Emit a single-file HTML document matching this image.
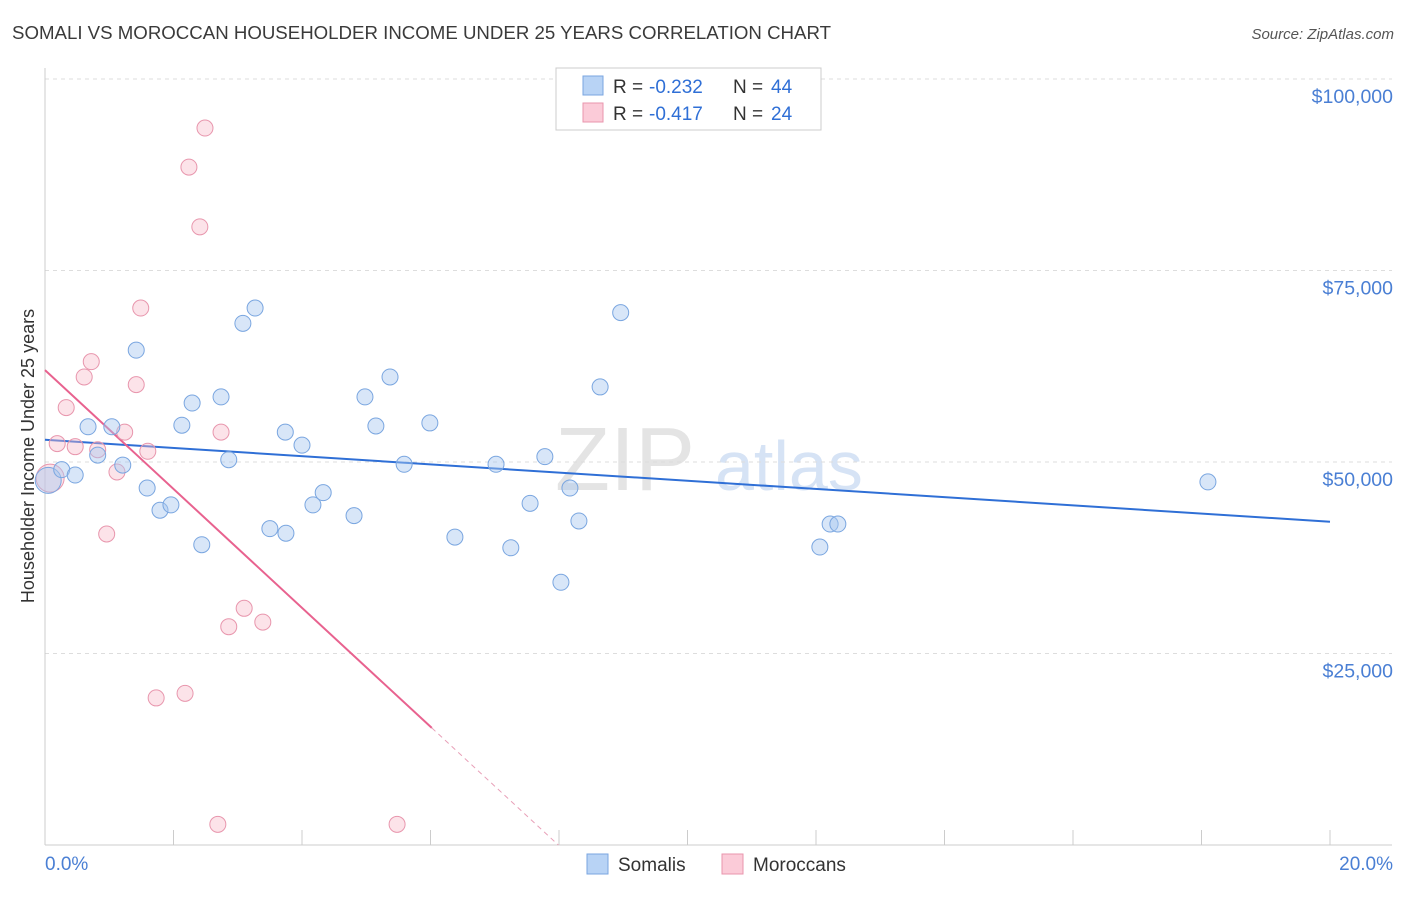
<!DOCTYPE html>
<html><head><meta charset="utf-8">
<style>
body{margin:0;background:#fff;font-family:"Liberation Sans",sans-serif;}
svg text{font-family:"Liberation Sans",sans-serif;}
</style></head>
<body>
<svg id="chart" width="1406" height="892" viewBox="0 0 1406 892" xmlns="http://www.w3.org/2000/svg">
<text x="12" y="39" font-size="18" fill="#3a3a3a" textLength="819" lengthAdjust="spacingAndGlyphs">SOMALI VS MOROCCAN HOUSEHOLDER INCOME UNDER 25 YEARS CORRELATION CHART</text>
<text x="1394" y="39" font-size="15" fill="#555" text-anchor="end" font-style="italic">Source: ZipAtlas.com</text>
<text x="555" y="490" font-size="90" fill="#e4e4e4" font-family="Liberation Serif">ZIP</text>
<text x="715" y="490" font-size="70" fill="#d6e3f5">atlas</text>
<g id="grid"></g>
<line x1="45" y1="68" x2="45" y2="845" stroke="#ccc"/>
<line x1="45" y1="845" x2="1392" y2="845" stroke="#ccc"/>
<g id="xticks"></g>
<text transform="translate(34,456) rotate(-90)" font-size="18" fill="#333" text-anchor="middle">Householder Income Under 25 years</text>
<text x="45" y="870" font-size="19" fill="#4a7fd4">0.0%</text>
<text x="1393" y="870" font-size="19" fill="#4a7fd4" text-anchor="end">20.0%</text>
<g id="lines"></g>
<g id="points"></g>
<g>
<rect x="556" y="68" width="265" height="62" fill="#fff" stroke="#ccc"/>
<rect x="583" y="76" width="20" height="19" fill="#b8d3f5" stroke="#7aa6e0"/>
<text x="613" y="93" font-size="19" fill="#333">R =</text>
<text x="649" y="93" font-size="19" fill="#2f6fd6">-0.232</text>
<text x="733" y="93" font-size="19" fill="#333">N =</text>
<text x="771" y="93" font-size="19" fill="#2f6fd6">44</text>
<rect x="583" y="103" width="20" height="19" fill="#fbcbd8" stroke="#e896ad"/>
<text x="613" y="120" font-size="19" fill="#333">R =</text>
<text x="649" y="120" font-size="19" fill="#2f6fd6">-0.417</text>
<text x="733" y="120" font-size="19" fill="#333">N =</text>
<text x="771" y="120" font-size="19" fill="#2f6fd6">24</text>
</g>
<g><rect x="587" y="854" width="21" height="20" fill="#b8d3f5" stroke="#7aa6e0"/><text x="618" y="871" font-size="19" fill="#333">Somalis</text></g>
<g><rect x="722" y="854" width="21" height="20" fill="#fbcbd8" stroke="#e896ad"/><text x="753" y="871" font-size="19" fill="#333">Moroccans</text></g>
</svg>
<script>
const NS="http://www.w3.org/2000/svg";
const yTicks=[25000,50000,75000,100000];
const yTickLabels=["$25,000","$50,000","$75,000","$100,000"];
const somaliX=[0.05,0.26,0.47,0.67,0.82,1.04,1.21,1.42,1.59,1.79,1.96,2.13,2.29,2.44,2.74,2.86,3.08,3.27,3.50,3.74,3.75,4.00,4.17,4.33,4.81,4.98,5.15,5.37,5.59,5.99,6.38,7.02,7.25,7.55,7.78,8.03,8.17,8.31,8.64,8.96,12.06,12.22,12.34,18.10];
const somaliY=[47.6,49.0,48.3,54.6,50.9,54.6,49.6,64.6,46.6,43.7,44.4,54.8,57.7,39.2,58.5,50.3,68.1,70.1,41.3,53.9,40.7,52.2,44.4,46.0,43.0,58.5,54.7,61.1,49.7,55.1,40.2,49.7,38.8,44.6,50.7,34.3,46.6,42.3,59.8,69.5,38.9,41.9,41.9,47.4];
const moroccanX=[0.08,0.19,0.33,0.47,0.61,0.72,0.82,0.96,1.12,1.24,1.42,1.49,1.60,1.73,2.18,2.24,2.41,2.49,2.69,2.74,2.86,3.10,3.39,5.48];
const moroccanY=[47.9,52.4,57.1,52.0,61.1,63.1,51.6,40.6,48.7,53.9,60.1,70.1,51.4,19.2,19.8,88.5,80.7,93.6,2.7,53.9,28.5,30.9,29.1,2.7];
const somaliTrend=[52.9,42.2];
const moroccanTrend=[62.0,-7.76];
const sx=p=>45+p/20*1285;
const sy=v=>845-v/25000*191.5;
function mk(tag,attrs,parent){const e=document.createElementNS(NS,tag);for(const k in attrs)e.setAttribute(k,attrs[k]);parent.appendChild(e);return e;}
const grid=document.getElementById('grid');
yTicks.forEach((t,i)=>{
  const l=mk('line',{x1:45,x2:1392,y1:sy(t),y2:sy(t),stroke:'#ddd','stroke-dasharray':'4,4'},grid);
  
  
  const tx=mk('text',{x:1393,y:sy(t)+24,'font-size':19.5,fill:'#4a7fd4','text-anchor':'end'},grid);
  tx.textContent=yTickLabels[i];
  
  
});
const xt=document.getElementById('xticks');
for(let i=1;i<=10;i++){
  const l=mk('line',{x1:sx(i*2),x2:sx(i*2),y1:830,y2:845,stroke:'#ccc'},xt);
  
  
}
const lines=document.getElementById('lines');
const bl=mk('line',{x1:sx(0),y1:sy(somaliTrend[0]*1000),x2:sx(20),y2:sy(somaliTrend[1]*1000),stroke:'#2f6fd6','stroke-width':2},lines);


const mEnd=6.02, mZero=-moroccanTrend[0]/moroccanTrend[1];
const pl=mk('line',{x1:sx(0),y1:sy(moroccanTrend[0]*1000),x2:sx(mEnd),y2:sy((moroccanTrend[0]+moroccanTrend[1]*mEnd)*1000),stroke:'#e8628f','stroke-width':2},lines);


const pd=mk('line',{x1:sx(mEnd),y1:sy((moroccanTrend[0]+moroccanTrend[1]*mEnd)*1000),x2:sx(mZero),y2:sy(0),stroke:'#e8a0b8','stroke-width':1,'stroke-dasharray':'5,4'},lines);


const pts=document.getElementById('points');
moroccanX.forEach((x,i)=>{
  const c=mk('circle',{cx:sx(x),cy:sy(moroccanY[i]*1000),r:i==0?14:8,fill:'rgba(247,184,200,0.4)',stroke:'#e896ad','stroke-width':1},pts);
  
  
});
somaliX.forEach((x,i)=>{
  const c=mk('circle',{cx:sx(x),cy:sy(somaliY[i]*1000),r:i==0?13:8,fill:'rgba(169,200,240,0.45)',stroke:'#7aa6e0','stroke-width':1},pts);
  
  
});
</script>
</body></html>
